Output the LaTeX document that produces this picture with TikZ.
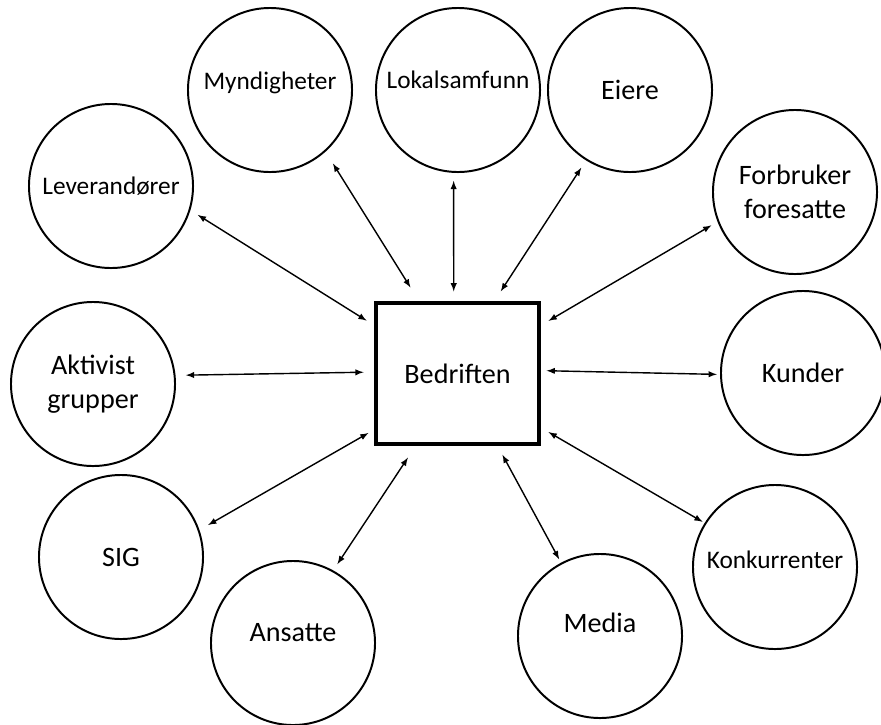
\documentclass[tikz,border=0pt]{standalone}
\usepackage{fontspec}
\setmainfont{Carlito}
\usetikzlibrary{arrows}

\tikzstyle{party} = [circle, minimum size=4.1cm, draw=black, line width=1.4pt, text centered, align=center, font=\fontsize{20}{24}\selectfont]
\tikzstyle{smalltext} = [font=\fontsize{18}{21}\selectfont]
\tikzstyle{firm} = [rectangle, minimum width=4.075cm, minimum height=3.525cm, draw=black, line width=2.3pt, font=\fontsize{20}{24}\selectfont]
\tikzstyle{arrow} = [line width=1pt, latex-latex]
\tikzset{lift/.style={text depth=#1}}

\begin{document}
\begin{tikzpicture}[x=0.025cm, y=-0.025cm]
\useasboundingbox (0,0) rectangle (881,724);

\node (bedr) [firm] at (457.5,373.5) {Bedriften};

\node (lev) [party, smalltext] at (111,186) {Leverandører};
\node (myn) [party, smalltext, lift=0.45cm] at (270,90) {Myndigheter};
\node (lok) [party, smalltext, lift=0.5cm] at (458,90) {Lokalsamfunn};
\node (eier) [party] at (630,90) {Eiere};
\node (forb) [party] at (795,192) {Forbruker\\foresatte};
\node (akt) [party] at (93,384) {Aktivist\\grupper};
\node (kunder) [party] at (803,373) {Kunder};
\node (sig) [party] at (121,557) {SIG};
\node (ans) [party, lift=0.55cm] at (293,643) {Ansatte};
\node (media) [party, lift=0.65cm] at (600,636) {Media};
\node (konk) [party, smalltext, lift=0.35cm] at (775,567) {Konkurrenter};

\draw [arrow, shorten <=0.22cm, shorten >=0.23cm] (lev.-17) -- (bedr.150);
\draw [arrow, shorten <=0.35cm, shorten >=0.41cm] (myn.-48) -- (bedr.118);
\draw [arrow, shorten <=0.2cm, shorten >=0.25cm] (lok.-93) -- (bedr.93);
\draw [arrow, shorten <=0.22cm, shorten >=0.3cm] (eier.-122) -- (bedr.63);
\draw [arrow, shorten <=0.18cm, shorten >=0.23cm] (forb.-159) -- (bedr.30);
\draw [arrow, shorten <=0.26cm, shorten >=0.27cm] (akt.6) -- (bedr.179);
\draw [arrow, shorten <=0.08cm, shorten >=0.15cm] (kunder.181.5) -- (bedr.2.6);
\draw [arrow, shorten <=0.25cm, shorten >=0.17cm] (sig.19) -- (bedr.-146.5);
\draw [arrow, shorten <=0.19cm, shorten >=0.36cm] (ans.61) -- (bedr.-120);
\draw [arrow, shorten <=0.1cm, shorten >=0.26cm] (media.118) -- (bedr.-61);
\draw [arrow, shorten <=0.06cm, shorten >=0.23cm] (konk.148.5) -- (bedr.-33);

\end{tikzpicture}
\end{document}
